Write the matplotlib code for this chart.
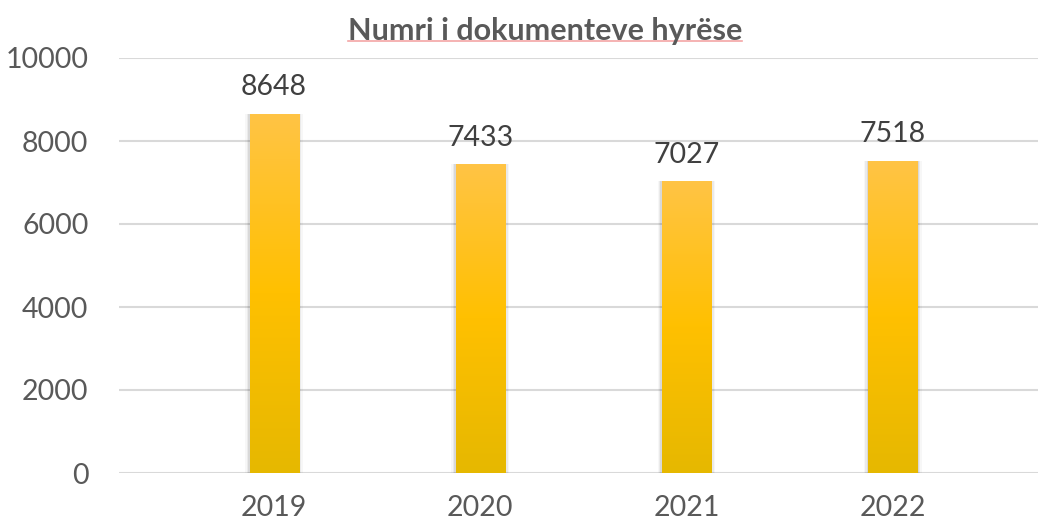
import matplotlib.pyplot as plt
import numpy as np
from matplotlib.colors import LinearSegmentedColormap
from matplotlib.lines import Line2D

# data
years = ["2019", "2020", "2021", "2022"]
docs = [8648, 7433, 7027, 7518]

plt.rcParams["font.family"] = ["Lato", "DejaVu Sans"]

fig = plt.figure(figsize=(10.38, 5.27), dpi=100)
ax = fig.add_axes([119 / 1038, 54 / 527, 919 / 1038, 415 / 527])

x = np.arange(len(years))
width = 0.238

# gold gradient, light at top, darker at bottom
cmap = LinearSegmentedColormap.from_list(
    "gold", ["#e6b800", "#ffc000", "#ffc445"]
)
grad = np.linspace(0, 1, 256).reshape(-1, 1)

bars = ax.bar(x, docs, width=width, color="none", zorder=3)
for b in bars:
    x0, w, h = b.get_x(), b.get_width(), b.get_height()
    # soft shadow
    for k, a in enumerate([0.07, 0.05, 0.03]):
        pad = 0.007 * (k + 1)
        ax.add_patch(plt.Rectangle((x0 - pad, -30), w + 2 * pad, h + 30 + pad * 200,
                                   color="#000000", alpha=a, lw=0, zorder=2))
    ax.imshow(grad, cmap=cmap, origin="lower", aspect="auto",
              extent=[x0, x0 + w, 0, h], zorder=3)

for xi, v in zip(x, docs):
    ax.text(xi, v + 330, str(v), ha="center", va="bottom",
            fontsize=20.5, color="#404040")

ax.set_xlim(-0.752, 3.705)
ax.set_ylim(0, 10000)
ax.set_yticks(range(0, 10001, 2000))
ax.set_xticks(x)
ax.set_xticklabels(years)
ax.tick_params(axis="both", length=0, labelsize=20.5, labelcolor="#595959")
ax.tick_params(axis="y", pad=22)
ax.tick_params(axis="x", pad=16)
ax.grid(axis="y", color="#d9d9d9", linewidth=1.5, zorder=0)
ax.set_axisbelow(True)
for s in ax.spines.values():
    s.set_visible(False)

title = fig.text(545 / 1038, 1 - 31 / 527, "Numri i dokumenteve hyrëse",
                 ha="center", va="center", fontsize=22, fontweight="bold",
                 color="#595959")

# red underline below the title
fig.canvas.draw()
bb = title.get_window_extent().transformed(fig.transFigure.inverted())
fig.add_artist(Line2D([bb.x0, bb.x1], [1 - 41 / 527] * 2,
                      transform=fig.transFigure, color="#f4a6a6", lw=1.2))

fig.savefig("out.png", dpi=100)
